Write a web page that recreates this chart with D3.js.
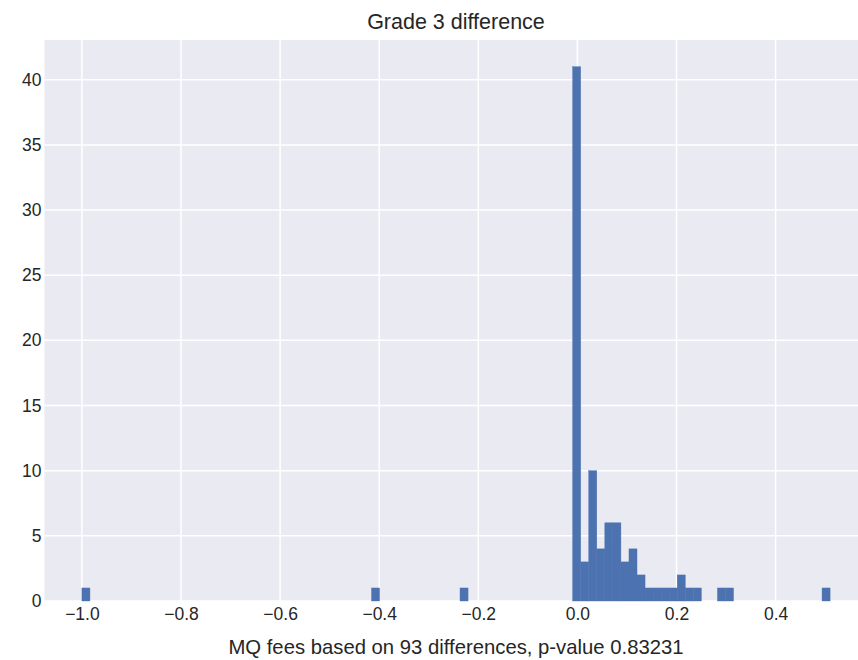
<!DOCTYPE html>
<html>
<head>
<meta charset="utf-8">
<script src="https://cdn.jsdelivr.net/npm/d3@7"></script>
<style>
  body { margin: 0; background: #fff; }
  text { font-family: "Liberation Sans", Arial, sans-serif; fill: #262626; }
</style>
</head>
<body>
<svg id="chart"></svg>
<script>
// Histogram of 93 differences, 93 equal bins between dataMin and dataMax
const dataMin = -1.0;
const dataMax = 0.51;
const binCounts = [
  1, 0, 0, 0, 0, 0, 0, 0, 0, 0,
  0, 0, 0, 0, 0, 0, 0, 0, 0, 0,
  0, 0, 0, 0, 0, 0, 0, 0, 0, 0,
  0, 0, 0, 0, 0, 0, 1, 0, 0, 0,
  0, 0, 0, 0, 0, 0, 0, 1, 0, 0,
  0, 0, 0, 0, 0, 0, 0, 0, 0, 0,
  0, 41, 3, 10, 4, 6, 6, 3, 4, 2,
  1, 1, 1, 1, 2, 1, 1, 0, 0, 1,
  1, 0, 0, 0, 0, 0, 0, 0, 0, 0,
  0, 0, 1
];
const xTicks = [-1.0, -0.8, -0.6, -0.4, -0.2, 0.0, 0.2, 0.4];
const yTicks = [0, 5, 10, 15, 20, 25, 30, 35, 40];
const title = 'Grade 3 difference';
const xLabel = 'MQ fees based on 93 differences, p-value 0.83231';

const width = 858, height = 660;
const margin = { top: 40, right: -9.5, bottom: 59, left: 44.5 };
const innerW = width - margin.left - margin.right;
const innerH = height - margin.top - margin.bottom;

const svg = d3.select('#chart')
  .attr('width', width)
  .attr('height', height);

const g = svg.append('g')
  .attr('transform', `translate(${margin.left},${margin.top})`);

// matplotlib-like 5% padding on x, top padding on y
const pad = (dataMax - dataMin) * 0.05;
const xScale = d3.scaleLinear()
  .domain([dataMin - pad, dataMax + pad])
  .range([0, innerW]);

const yScale = d3.scaleLinear()
  .domain([0, d3.max(binCounts) * 1.05])
  .range([innerH, 0]);

g.append('rect')
  .attr('width', innerW)
  .attr('height', innerH)
  .attr('fill', '#EAEAF2');

// grid
g.selectAll('.xgrid')
  .data(xTicks)
  .join('line')
  .attr('class', 'xgrid')
  .attr('x1', d => xScale(d)).attr('x2', d => xScale(d))
  .attr('y1', 0).attr('y2', innerH)
  .attr('stroke', '#fff').attr('stroke-width', 1.5);

g.selectAll('.ygrid')
  .data(yTicks)
  .join('line')
  .attr('class', 'ygrid')
  .attr('x1', 0).attr('x2', innerW)
  .attr('y1', d => yScale(d)).attr('y2', d => yScale(d))
  .attr('stroke', '#fff').attr('stroke-width', 1.5);

// bars
const binW = (dataMax - dataMin) / binCounts.length;
const bins = binCounts.map((c, i) => ({ x0: dataMin + i * binW, x1: dataMin + (i + 1) * binW, count: c }));

g.selectAll('.bar')
  .data(bins.filter(d => d.count > 0))
  .join('rect')
  .attr('class', 'bar')
  .attr('x', d => xScale(d.x0))
  .attr('width', d => xScale(d.x1) - xScale(d.x0))
  .attr('y', d => yScale(d.count))
  .attr('height', d => innerH - yScale(d.count))
  .attr('fill', '#4C72B0')
  .attr('stroke', '#4C72B0')
  .attr('stroke-width', 0.4);

// axes (no lines, only labels)
const fmtX = d => d3.format('.1f')(d).replace('-', '\u2212');

const xAxis = d3.axisBottom(xScale).tickValues(xTicks).tickFormat(fmtX).tickSize(0).tickPadding(7);
const yAxis = d3.axisLeft(yScale).tickValues(yTicks).tickSize(0).tickPadding(3);

const xAxisG = g.append('g')
  .attr('transform', `translate(0,${innerH})`)
  .call(xAxis);
const yAxisG = g.append('g').call(yAxis);

[xAxisG, yAxisG].forEach(a => {
  a.select('.domain').remove();
  a.selectAll('text')
    .style('font-family', '"Liberation Sans", Arial, sans-serif')
    .style('font-size', '17.5px')
    .attr('fill', '#262626');
});

svg.append('text')
  .attr('x', margin.left + innerW / 2)
  .attr('y', 29)
  .attr('text-anchor', 'middle')
  .style('font-size', '21.5px')
  .text(title);

svg.append('text')
  .attr('x', margin.left + innerW / 2)
  .attr('y', 654)
  .attr('text-anchor', 'middle')
  .style('font-size', '20.3px')
  .text(xLabel);
</script>
</body>
</html>
